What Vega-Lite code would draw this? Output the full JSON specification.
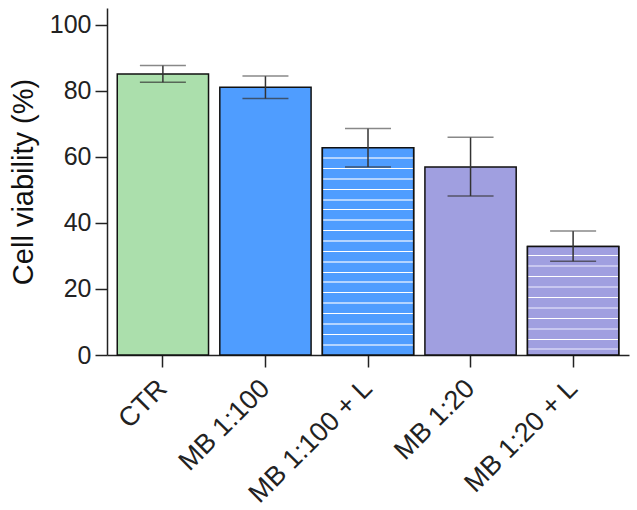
{
  "$schema": "https://vega.github.io/schema/vega-lite/v6.json",
  "width": 522,
  "height": 347,
  "autosize": {"type": "none"},
  "padding": {"left": 107, "top": 8, "right": 8, "bottom": 155},
  "background": "white",
  "config": {"view": {"stroke": null}, "font": "Liberation Sans"},
  "data": {
    "values": [
      {"group": "CTR", "mean": 85.0, "lo": 82.5, "hi": 87.6},
      {"group": "MB 1:100", "mean": 81.0, "lo": 77.6, "hi": 84.4},
      {"group": "MB 1:100 + L", "mean": 62.7, "lo": 56.9, "hi": 68.5},
      {"group": "MB 1:20", "mean": 56.9, "lo": 48.1, "hi": 65.9},
      {"group": "MB 1:20 + L", "mean": 32.8, "lo": 28.4, "hi": 37.5}
    ]
  },
  "encoding": {
    "x": {
      "field": "group",
      "type": "nominal",
      "sort": null,
      "scale": {"domain": ["CTR", "MB 1:100", "MB 1:100 + L", "MB 1:20", "MB 1:20 + L"], "paddingInner": 0.11, "paddingOuter": 0.1},
      "axis": {
        "title": null,
        "labelAngle": -45,
        "labelAlign": "right",
        "labelBaseline": "middle",
        "labelFontSize": 27,
        "labelFont": "Liberation Sans",
        "labelColor": "#222",
        "labelPadding": 17,
        "tickSize": 12,
        "tickWidth": 1.5,
        "tickColor": "#222",
        "domainColor": "#222",
        "domainWidth": 1.5
      }
    }
  },
  "layer": [
    {
      "mark": {"type": "bar", "stroke": "#111", "strokeWidth": 1.5},
      "encoding": {
        "y": {
          "field": "mean",
          "type": "quantitative",
          "scale": {"domain": [0, 105], "nice": false},
          "axis": {
            "values": [0, 10, 20, 30, 40, 50, 60, 70, 80, 90, 100],
            "labelExpr": "datum.value % 20 === 0 ? datum.label : ''",
            "tickSize": {"condition": {"test": "datum.value % 20 === 0", "value": 12}, "value": 6},
            "tickWidth": 1.5,
            "tickColor": "#222",
            "domainColor": "#222",
            "domainWidth": 1.5,
            "grid": false,
            "labelFontSize": 25,
            "labelFont": "Liberation Sans",
            "labelColor": "#222",
            "labelPadding": 4,
            "title": "Cell viability (%)",
            "titleFont": "Liberation Sans",
            "titleFontSize": 29,
            "titleFontWeight": "normal",
            "titleColor": "#111",
            "titlePadding": 11
          }
        },
        "fill": {
          "field": "group",
          "type": "nominal",
          "scale": {"domain": ["CTR", "MB 1:100", "MB 1:100 + L", "MB 1:20", "MB 1:20 + L"], "range": ["#abdfac", "#4f9dff", "#4f9dff", "#a09fe0", "#a09fe0"]},
          "legend": null
        }
      }
    },
    {
      "transform": [{"filter": "datum.group === 'MB 1:100 + L'"}],
      "mark": {
        "type": "bar",
        "stroke": "#111",
        "strokeWidth": 1.5,
        "fill": {
          "gradient": "linear", "x1": 0, "y1": 0, "x2": 0, "y2": 1,
          "stops": [
            {"offset": 0, "color": "#4f9dff"},
            {"offset": 0.0452, "color": "#4f9dff"}, {"offset": 0.0452, "color": "#b3d4ff"}, {"offset": 0.0548, "color": "#b3d4ff"}, {"offset": 0.0548, "color": "#4f9dff"},
            {"offset": 0.0976, "color": "#4f9dff"}, {"offset": 0.0976, "color": "#ffffff"}, {"offset": 0.1024, "color": "#ffffff"}, {"offset": 0.1024, "color": "#4f9dff"},
            {"offset": 0.1452, "color": "#4f9dff"}, {"offset": 0.1452, "color": "#b3d4ff"}, {"offset": 0.1548, "color": "#b3d4ff"}, {"offset": 0.1548, "color": "#4f9dff"},
            {"offset": 0.1976, "color": "#4f9dff"}, {"offset": 0.1976, "color": "#ffffff"}, {"offset": 0.2024, "color": "#ffffff"}, {"offset": 0.2024, "color": "#4f9dff"},
            {"offset": 0.2452, "color": "#4f9dff"}, {"offset": 0.2452, "color": "#b3d4ff"}, {"offset": 0.2548, "color": "#b3d4ff"}, {"offset": 0.2548, "color": "#4f9dff"},
            {"offset": 0.2976, "color": "#4f9dff"}, {"offset": 0.2976, "color": "#ffffff"}, {"offset": 0.3024, "color": "#ffffff"}, {"offset": 0.3024, "color": "#4f9dff"},
            {"offset": 0.3452, "color": "#4f9dff"}, {"offset": 0.3452, "color": "#b3d4ff"}, {"offset": 0.3548, "color": "#b3d4ff"}, {"offset": 0.3548, "color": "#4f9dff"},
            {"offset": 0.3976, "color": "#4f9dff"}, {"offset": 0.3976, "color": "#ffffff"}, {"offset": 0.4024, "color": "#ffffff"}, {"offset": 0.4024, "color": "#4f9dff"},
            {"offset": 0.4452, "color": "#4f9dff"}, {"offset": 0.4452, "color": "#b3d4ff"}, {"offset": 0.4548, "color": "#b3d4ff"}, {"offset": 0.4548, "color": "#4f9dff"},
            {"offset": 0.4976, "color": "#4f9dff"}, {"offset": 0.4976, "color": "#ffffff"}, {"offset": 0.5024, "color": "#ffffff"}, {"offset": 0.5024, "color": "#4f9dff"},
            {"offset": 0.5452, "color": "#4f9dff"}, {"offset": 0.5452, "color": "#b3d4ff"}, {"offset": 0.5548, "color": "#b3d4ff"}, {"offset": 0.5548, "color": "#4f9dff"},
            {"offset": 0.5976, "color": "#4f9dff"}, {"offset": 0.5976, "color": "#ffffff"}, {"offset": 0.6024, "color": "#ffffff"}, {"offset": 0.6024, "color": "#4f9dff"},
            {"offset": 0.6452, "color": "#4f9dff"}, {"offset": 0.6452, "color": "#b3d4ff"}, {"offset": 0.6548, "color": "#b3d4ff"}, {"offset": 0.6548, "color": "#4f9dff"},
            {"offset": 0.6976, "color": "#4f9dff"}, {"offset": 0.6976, "color": "#ffffff"}, {"offset": 0.7024, "color": "#ffffff"}, {"offset": 0.7024, "color": "#4f9dff"},
            {"offset": 0.7452, "color": "#4f9dff"}, {"offset": 0.7452, "color": "#b3d4ff"}, {"offset": 0.7548, "color": "#b3d4ff"}, {"offset": 0.7548, "color": "#4f9dff"},
            {"offset": 0.7976, "color": "#4f9dff"}, {"offset": 0.7976, "color": "#ffffff"}, {"offset": 0.8024, "color": "#ffffff"}, {"offset": 0.8024, "color": "#4f9dff"},
            {"offset": 0.8452, "color": "#4f9dff"}, {"offset": 0.8452, "color": "#b3d4ff"}, {"offset": 0.8548, "color": "#b3d4ff"}, {"offset": 0.8548, "color": "#4f9dff"},
            {"offset": 0.8976, "color": "#4f9dff"}, {"offset": 0.8976, "color": "#ffffff"}, {"offset": 0.9024, "color": "#ffffff"}, {"offset": 0.9024, "color": "#4f9dff"},
            {"offset": 0.9452, "color": "#4f9dff"}, {"offset": 0.9452, "color": "#b3d4ff"}, {"offset": 0.9548, "color": "#b3d4ff"}, {"offset": 0.9548, "color": "#4f9dff"},
            {"offset": 1, "color": "#4f9dff"}
          ]
        }
      },
      "encoding": {"y": {"field": "mean", "type": "quantitative"}}
    },
    {
      "transform": [{"filter": "datum.group === 'MB 1:20 + L'"}],
      "mark": {
        "type": "bar",
        "stroke": "#111",
        "strokeWidth": 1.5,
        "fill": {
          "gradient": "linear", "x1": 0, "y1": 0, "x2": 0, "y2": 1,
          "stops": [
            {"offset": 0, "color": "#a09fe0"},
            {"offset": 0.0812, "color": "#a09fe0"}, {"offset": 0.0812, "color": "#ffffff"}, {"offset": 0.0904, "color": "#ffffff"}, {"offset": 0.0904, "color": "#a09fe0"},
            {"offset": 0.1725, "color": "#a09fe0"}, {"offset": 0.1725, "color": "#c8c7f0"}, {"offset": 0.1909, "color": "#c8c7f0"}, {"offset": 0.1909, "color": "#a09fe0"},
            {"offset": 0.2730, "color": "#a09fe0"}, {"offset": 0.2730, "color": "#ffffff"}, {"offset": 0.2822, "color": "#ffffff"}, {"offset": 0.2822, "color": "#a09fe0"},
            {"offset": 0.3643, "color": "#a09fe0"}, {"offset": 0.3643, "color": "#c8c7f0"}, {"offset": 0.3827, "color": "#c8c7f0"}, {"offset": 0.3827, "color": "#a09fe0"},
            {"offset": 0.4648, "color": "#a09fe0"}, {"offset": 0.4648, "color": "#ffffff"}, {"offset": 0.4740, "color": "#ffffff"}, {"offset": 0.4740, "color": "#a09fe0"},
            {"offset": 0.5561, "color": "#a09fe0"}, {"offset": 0.5561, "color": "#c8c7f0"}, {"offset": 0.5745, "color": "#c8c7f0"}, {"offset": 0.5745, "color": "#a09fe0"},
            {"offset": 0.6566, "color": "#a09fe0"}, {"offset": 0.6566, "color": "#ffffff"}, {"offset": 0.6658, "color": "#ffffff"}, {"offset": 0.6658, "color": "#a09fe0"},
            {"offset": 0.7479, "color": "#a09fe0"}, {"offset": 0.7479, "color": "#c8c7f0"}, {"offset": 0.7663, "color": "#c8c7f0"}, {"offset": 0.7663, "color": "#a09fe0"},
            {"offset": 0.8484, "color": "#a09fe0"}, {"offset": 0.8484, "color": "#ffffff"}, {"offset": 0.8576, "color": "#ffffff"}, {"offset": 0.8576, "color": "#a09fe0"},
            {"offset": 0.9397, "color": "#a09fe0"}, {"offset": 0.9397, "color": "#c8c7f0"}, {"offset": 0.9581, "color": "#c8c7f0"}, {"offset": 0.9581, "color": "#a09fe0"},
            {"offset": 1, "color": "#a09fe0"}
          ]
        }
      },
      "encoding": {"y": {"field": "mean", "type": "quantitative"}}
    },
    {
      "mark": {"type": "rule", "color": "#333", "strokeWidth": 1.5},
      "encoding": {
        "y": {"field": "lo", "type": "quantitative"},
        "y2": {"field": "hi"}
      }
    },
    {
      "mark": {"type": "tick", "color": "#333", "size": 46, "thickness": 1.5},
      "encoding": {"y": {"field": "lo", "type": "quantitative"}}
    },
    {
      "mark": {"type": "tick", "color": "#555", "size": 46, "thickness": 1.5},
      "encoding": {"y": {"field": "hi", "type": "quantitative"}}
    }
  ]
}
